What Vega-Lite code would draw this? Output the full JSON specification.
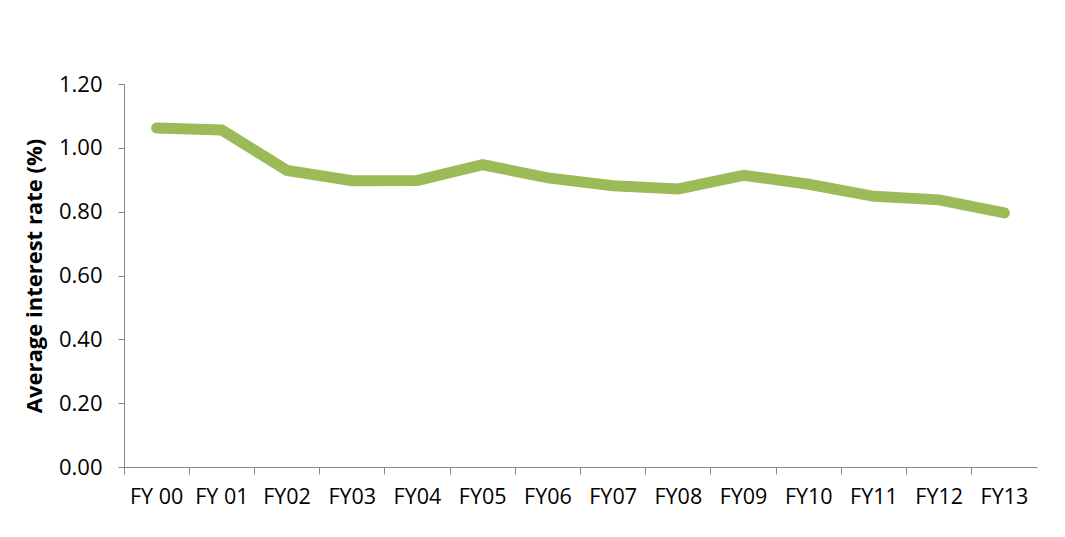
{
  "$schema": "https://vega.github.io/schema/vega-lite/v6.json",
  "width": 913,
  "height": 383,
  "autosize": {"type": "none"},
  "padding": {"left": 124, "top": 84, "right": 28, "bottom": 70},
  "background": "white",
  "config": {"view": {"stroke": null}, "font": "Open Sans"},
  "data": {"values": [
    {"year": "FY 00", "rate": 1.062},
    {"year": "FY 01", "rate": 1.056},
    {"year": "FY02", "rate": 0.929},
    {"year": "FY03", "rate": 0.897},
    {"year": "FY04", "rate": 0.898},
    {"year": "FY05", "rate": 0.947},
    {"year": "FY06", "rate": 0.906},
    {"year": "FY07", "rate": 0.881},
    {"year": "FY08", "rate": 0.871},
    {"year": "FY09", "rate": 0.914},
    {"year": "FY10", "rate": 0.886},
    {"year": "FY11", "rate": 0.848},
    {"year": "FY12", "rate": 0.837},
    {"year": "FY13", "rate": 0.796}
  ]},
  "mark": {"type": "line", "color": "#9BBB59", "strokeWidth": 11, "strokeCap": "round", "strokeJoin": "miter"},
  "encoding": {
    "x": {
      "field": "year", "type": "ordinal", "sort": null,
      "scale": {"type": "band", "paddingInner": 0, "paddingOuter": 0},
      "axis": {
        "title": null, "labelAngle": 0, "bandPosition": 0,
        "domainColor": "#868686", "tickColor": "#868686", "tickSize": 7,
        "labelFontSize": 21.5, "labelColor": "#000000", "labelPadding": 12,
        "labelFont": "Open Sans"
      }
    },
    "y": {
      "field": "rate", "type": "quantitative",
      "scale": {"domain": [0, 1.2]},
      "axis": {
        "title": "Average interest rate (%)", "titleFontSize": 22, "titleFontWeight": "bold",
        "titleColor": "#000000", "titlePadding": 12, "titleFont": "Open Sans",
        "values": [0, 0.2, 0.4, 0.6, 0.8, 1.0, 1.2], "format": ".2f",
        "grid": false, "domainColor": "#868686", "tickColor": "#868686", "tickSize": 6,
        "labelFontSize": 22, "labelColor": "#000000", "labelPadding": 16, "labelFont": "Open Sans"
      }
    }
  }
}
